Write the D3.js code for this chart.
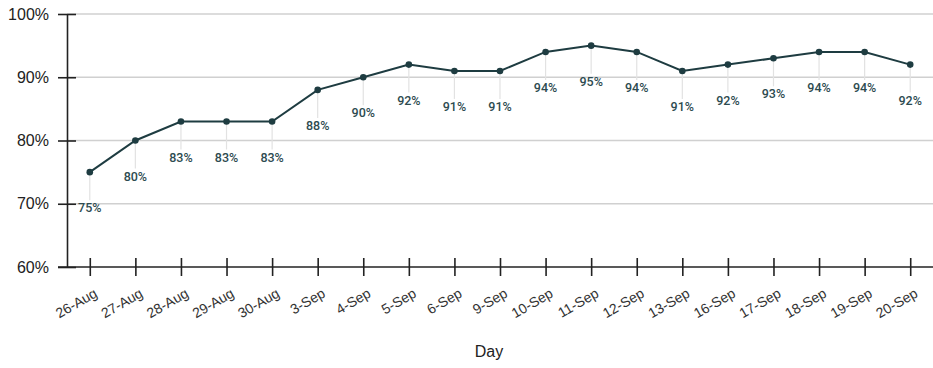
<!DOCTYPE html>
<html>
<head>
<meta charset="utf-8">
<script src="https://cdn.jsdelivr.net/npm/d3@7"></script>
<style>
  html, body { margin: 0; padding: 0; background: #fff; }
  svg { display: block; }
</style>
</head>
<body>
<svg id="chart" width="933" height="368"></svg>
<script>
// Daily percentages
const days = ["26-Aug", "27-Aug", "28-Aug", "29-Aug", "30-Aug", "3-Sep", "4-Sep", "5-Sep", "6-Sep", "9-Sep",
  "10-Sep", "11-Sep", "12-Sep", "13-Sep", "16-Sep", "17-Sep", "18-Sep", "19-Sep", "20-Sep"];
const values = [75, 80, 83, 83, 83, 88, 90, 92, 91, 91, 94, 95, 94, 91, 92, 93, 94, 94, 92];
const yTicks = [60, 70, 80, 90, 100];
const xTitle = "Day";

const svg = d3.select("#chart");
const plotLeft = 67, plotRight = 933, plotTop = 14, plotBottom = 267;

const x = d3.scalePoint().domain(days).range([plotLeft, plotRight]).padding(0.5);
const y = d3.scaleLinear().domain([60, 100]).range([plotBottom, plotTop]);

const lineColor = "#1e3c41";
const labelColor = "#2d4b50";

// Horizontal gridlines
svg.append("g")
  .selectAll("line")
  .data(yTicks.filter(t => t > 60))
  .join("line")
  .attr("x1", plotLeft).attr("x2", plotRight)
  .attr("y1", d => y(d)).attr("y2", d => y(d))
  .attr("stroke", "#d0d0d0").attr("stroke-width", 1.3);

// Guides from each point down to its label
svg.append("g")
  .selectAll("line")
  .data(values)
  .join("line")
  .attr("x1", (d, i) => x(days[i])).attr("x2", (d, i) => x(days[i]))
  .attr("y1", d => y(d)).attr("y2", d => y(d) + 28)
  .attr("stroke", "#e2e2e2").attr("stroke-width", 1.2);

// Y axis
const yAxis = svg.append("g")
  .attr("transform", `translate(${plotLeft},0)`)
  .call(d3.axisLeft(y).tickValues(yTicks).tickFormat(d => d + "%").tickSizeInner(9).tickSizeOuter(0).tickPadding(9));
yAxis.selectAll(".tick line").attr("x2", 9).attr("x1", -9);
yAxis.selectAll("text")
  .attr("font-family", "Liberation Sans, Arial, sans-serif")
  .attr("font-size", 16).attr("fill", "#222");
yAxis.select(".domain").attr("stroke", "#222").attr("stroke-width", 1.6);
yAxis.selectAll(".tick line").attr("stroke", "#222").attr("stroke-width", 1.6);

// X axis
const xAxis = svg.append("g")
  .attr("transform", `translate(0,${plotBottom})`)
  .call(d3.axisBottom(x).tickSizeInner(9).tickSizeOuter(0));
xAxis.select(".domain").attr("d", `M${plotLeft - 9},0H${plotRight}`).attr("stroke", "#222").attr("stroke-width", 1.6);
xAxis.selectAll(".tick line").attr("y1", -9).attr("y2", 9).attr("stroke", "#222").attr("stroke-width", 1.6);
xAxis.selectAll(".tick text")
  .attr("font-family", "Liberation Sans, Arial, sans-serif")
  .attr("font-size", 14).attr("fill", "#333")
  .attr("text-anchor", "end")
  .attr("dy", null).attr("y", null)
  .attr("transform", "translate(8,29) rotate(-30)");

// Axis title
svg.append("text")
  .attr("x", 489).attr("y", 357)
  .attr("text-anchor", "middle")
  .attr("font-family", "Liberation Sans, Arial, sans-serif")
  .attr("font-size", 16).attr("fill", "#222")
  .text(xTitle);

// Line
svg.append("path")
  .datum(values)
  .attr("fill", "none")
  .attr("stroke", lineColor).attr("stroke-width", 2)
  .attr("d", d3.line().x((d, i) => x(days[i])).y(d => y(d)));

// Points
svg.append("g")
  .selectAll("circle")
  .data(values)
  .join("circle")
  .attr("cx", (d, i) => x(days[i])).attr("cy", d => y(d))
  .attr("r", 3.3).attr("fill", lineColor);

// Value labels
svg.append("g")
  .selectAll("text")
  .data(values)
  .join("text")
  .attr("x", (d, i) => x(days[i])).attr("y", d => y(d) + 40)
  .attr("text-anchor", "middle")
  .attr("font-family", "Roboto, sans-serif")
  .attr("font-weight", 500)
  .attr("font-size", 12.5).attr("fill", labelColor)
  .text(d => d + "%");
</script>
</body>
</html>
